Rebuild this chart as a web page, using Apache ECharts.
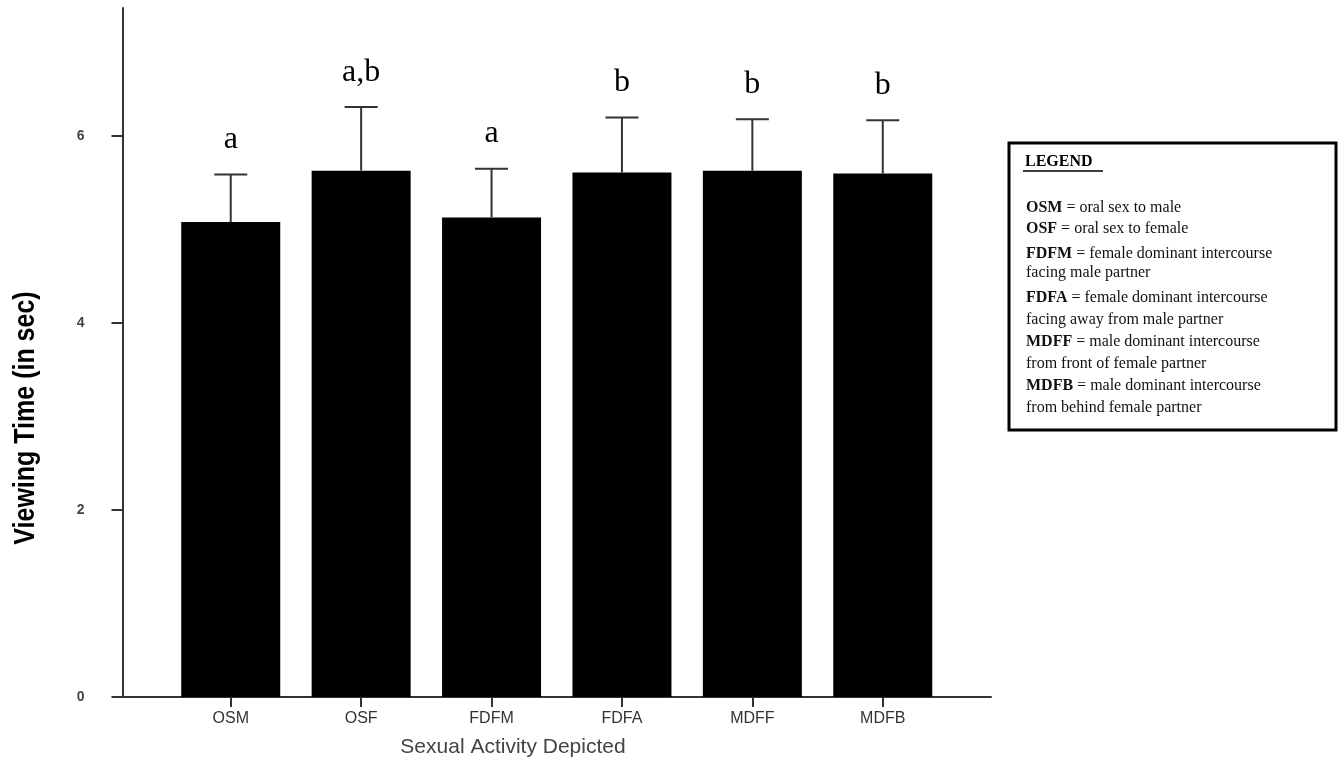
<!DOCTYPE html>
<html>
<head>
<meta charset="utf-8">
<script src="https://cdn.jsdelivr.net/npm/echarts@6/dist/echarts.min.js"></script>
<style>
  html, body { margin: 0; padding: 0; background: #fff; }
  #main { width: 1342px; height: 765px; }
</style>
</head>
<body>
<div id="main"></div>
<script>
// data
var categories = ['OSM', 'OSF', 'FDFM', 'FDFA', 'MDFF', 'MDFB'];
var means = [5.08, 5.63, 5.13, 5.61, 5.63, 5.60];
var errors = [0.51, 0.68, 0.52, 0.59, 0.55, 0.57];
var letters = ['a', 'a,b', 'a', 'b', 'b', 'b'];
var yTicks = [0, 2, 4, 6];
var legendTitle = 'LEGEND';
var legendText = [
    ['OSM', ' = oral sex to male'],
    ['OSF', ' = oral sex to female'],
    ['FDFM', ' = female dominant intercourse'],
    ['', 'facing male partner'],
    ['FDFA', ' = female dominant intercourse'],
    ['', 'facing away from male partner'],
    ['MDFF', ' = male dominant intercourse'],
    ['', 'from front of female partner'],
    ['MDFB', ' = male dominant intercourse'],
    ['', 'from behind female partner']
];

var chart = echarts.init(document.getElementById('main'));

var xIdx = categories.map(function (c, i) { return i; });
var barData = xIdx.map(function (i) { return [i, means[i]]; });
var errData = xIdx.map(function (i) { return [i, means[i], errors[i]]; });

// legend box
var legendY = [208, 229, 254, 273, 298, 320, 342, 364, 386, 408];
var legendEls = [
    {
        type: 'rect',
        shape: { x: 1009, y: 143, width: 327, height: 287 },
        style: { fill: '#fff', stroke: '#000', lineWidth: 3 }
    },
    {
        type: 'text', x: 1025, y: 162,
        style: { text: legendTitle, font: 'bold 16px "Liberation Serif"', fill: '#000', verticalAlign: 'middle' }
    },
    {
        type: 'line',
        shape: { x1: 1023, y1: 171, x2: 1103, y2: 171 },
        style: { stroke: '#000', lineWidth: 1.5 }
    }
];
legendText.forEach(function (row, k) {
    legendEls.push({
        type: 'text', x: 1026, y: legendY[k],
        style: {
            text: (row[0] ? '{b|' + row[0] + '}' : '') + row[1],
            font: '16px "Liberation Serif"',
            fill: '#111',
            verticalAlign: 'middle',
            rich: { b: { font: 'bold 16px "Liberation Serif"', fill: '#111' } }
        }
    });
});

var option = {
    animation: false,
    backgroundColor: '#fff',
    grid: { left: 122.5, right: 351, top: 8, bottom: 68 },
    xAxis: {
        type: 'value',
        min: -0.83,
        max: 5.83,
        splitLine: { show: false },
        axisLine: { show: true, onZero: false, lineStyle: { color: '#333', width: 2 } },
        axisTick: { show: true, customValues: xIdx, length: 10, lineStyle: { color: '#333', width: 2 } },
        axisLabel: {
            customValues: xIdx,
            margin: 14,
            color: '#333',
            fontFamily: 'Liberation Sans',
            fontSize: 16,
            formatter: function (v) { return categories[v] || ''; }
        }
    },
    yAxis: {
        type: 'value',
        min: 0,
        max: 7.37,
        splitLine: { show: false },
        axisLine: { show: true, onZero: false, lineStyle: { color: '#333', width: 2 } },
        axisTick: { show: true, customValues: yTicks, length: 11, lineStyle: { color: '#333', width: 2 } },
        axisLabel: {
            customValues: yTicks,
            margin: 38,
            color: '#444',
            fontFamily: 'Liberation Sans',
            fontSize: 14,
            fontWeight: 'bold'
        }
    },
    graphic: [
        {
            type: 'text', x: 26, y: 418, rotation: Math.PI / 2, scaleY: 1.15,
            style: {
                text: 'Viewing Time (in sec)',
                font: 'bold 25px "Liberation Sans"',
                fill: '#000', align: 'center', verticalAlign: 'middle'
            }
        },
        {
            type: 'text', x: 513, y: 747,
            style: {
                text: 'Sexual Activity Depicted',
                font: '21px "Liberation Sans"',
                fill: '#444', align: 'center', verticalAlign: 'middle'
            }
        }
    ].concat(legendEls),
    series: [
        {
            type: 'bar',
            data: barData,
            barWidth: 99,
            itemStyle: { color: '#000' },
            z: 2
        },
        {
            type: 'custom',
            data: errData,
            z: 3,
            renderItem: function (params, api) {
                var i = api.value(0), m = api.value(1), e = api.value(2);
                var base = api.coord([i, m]);
                var top = api.coord([i, m + e]);
                var style = { stroke: '#333', lineWidth: 2 };
                return {
                    type: 'group',
                    children: [
                        { type: 'line', shape: { x1: base[0], y1: base[1], x2: top[0], y2: top[1] }, style: style },
                        { type: 'line', shape: { x1: top[0] - 16.5, y1: top[1], x2: top[0] + 16.5, y2: top[1] }, style: style },
                        {
                            type: 'text', x: top[0], y: top[1] - 19,
                            style: {
                                text: letters[params.dataIndex],
                                font: '32px "Liberation Serif"',
                                fill: '#000', align: 'center', verticalAlign: 'bottom'
                            }
                        }
                    ]
                };
            }
        }
    ]
};

chart.setOption(option);
</script>
</body>
</html>
